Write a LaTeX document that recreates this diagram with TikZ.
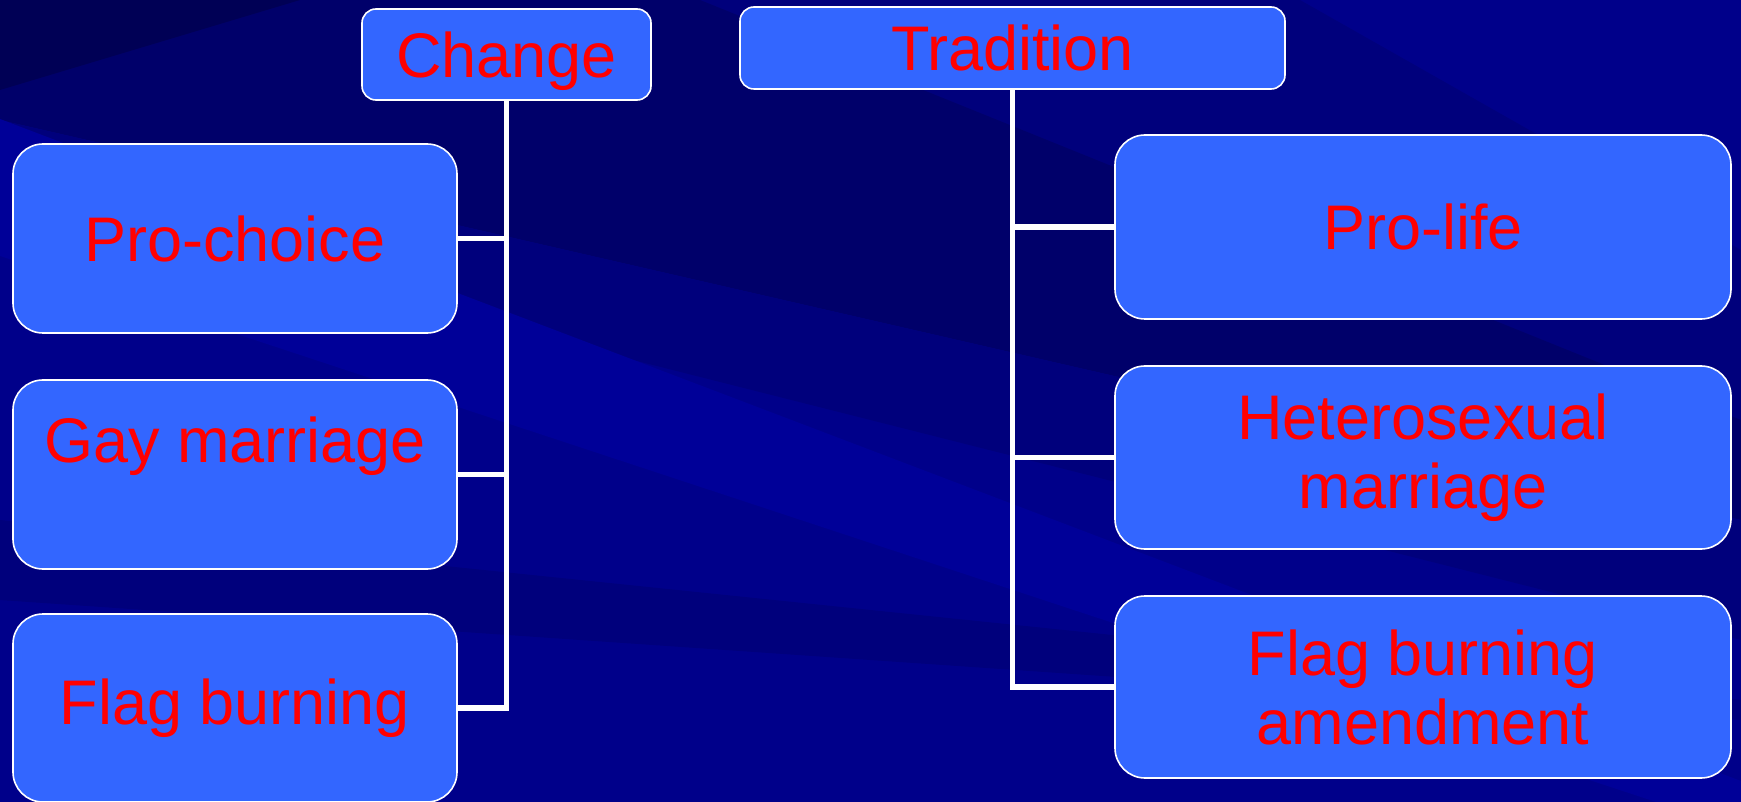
\documentclass[tikz,border=0pt]{standalone}
\usepackage{fontspec}
\setmainfont{Liberation Sans}
\usetikzlibrary{positioning}

\definecolor{bgnavy}{RGB}{0,0,138}
\definecolor{bgdark}{RGB}{0,0,124}
\definecolor{bgdeep}{RGB}{0,0,106}
\definecolor{bglight}{RGB}{0,0,152}
\definecolor{boxblue}{RGB}{51,102,255}

\begin{document}
\begin{tikzpicture}[x=1pt,y=-1pt,
    box/.style={draw=white, line width=1.6pt, fill=boxblue, rounded corners=30pt,
        inner sep=0pt, outer sep=0pt, text=red, align=center,
        font=\fontsize{63}{69}\selectfont},
    leftbox/.style={box, minimum width=444pt, minimum height=189pt},
    rightbox/.style={box, minimum width=616pt, minimum height=183pt},
    headbox/.style={box, rounded corners=14pt},
    link/.style={draw=white, line width=5.5pt}]
                \useasboundingbox (0,0) rectangle (1741,802);
                % background streaks
                \fill[bgnavy] (0,0) rectangle (1741,802);
                \fill[bgdark] (0,0) -- (1300,0) -- (1741,250) -- (1741,430) -- (0,60) -- cycle;
                \fill[bgdeep] (0,0) -- (700,0) -- (1741,420) -- (1741,520) -- (0,120) -- cycle;
                \fill[bgdark] (0,120) -- (1741,520) -- (1741,640) -- (0,200) -- cycle;
                \fill[bglight] (0,119) -- (1741,781) -- (1741,830) -- (0,256) -- cycle;
                \fill[bgdark] (0,520) -- (1741,700) -- (1741,720) -- (0,600) -- cycle;
                \fill[bgdeep!80!black] (0,0) -- (300,0) -- (0,90) -- cycle;
                % headings
                \node[headbox, minimum width=289pt, minimum height=91pt] (change) at (506.5,54.5) {\raisebox{-7pt}[\height][\depth]{Change}};
                \node[headbox, minimum width=545pt, minimum height=82pt] (tradition) at (1012.5,48) {Tradition};
                % change side
                \node[leftbox] (prochoice) at (235,238.5) {Pro-choice};
                \node[leftbox] (gaymarriage) at (235,474.5) {Gay marriage\\\mbox{}};
                \node[leftbox, minimum height=188pt] (flagburning) at (235,708) {Flag burning};
                % tradition side
                \node[rightbox, minimum height=184pt] (prolife) at (1423,227) {Pro-life};
                \node[rightbox] (hetero) at (1423,457.5) {Heterosexual\\marriage};
                \node[rightbox, minimum height=182pt] (flagamend) at (1423,687) {Flag burning\\amendment};
                % connectors
                \draw[link] (change.south) |- (prochoice.east);
                \draw[link] (change.south) |- (gaymarriage.east);
                \draw[link] (change.south) |- (flagburning.east);
                \draw[link] (tradition.south) |- (prolife.west);
                \draw[link] (tradition.south) |- (hetero.west);
                \draw[link] (tradition.south) |- (flagamend.west);
\end{tikzpicture}
\end{document}
